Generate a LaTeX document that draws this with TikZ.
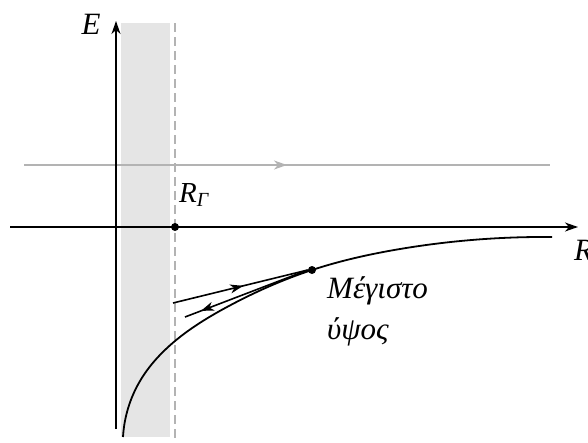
\documentclass[tikz,border=0pt]{standalone}
\usepackage{fontspec}
\setmainfont{Liberation Serif}
\usetikzlibrary{arrows.meta,decorations.markings,hobby}
\definecolor{shadegray}{HTML}{E5E5E5}
\definecolor{lgray}{HTML}{B3B3B3}
\tikzset{
  axis/.style={line width=1.6pt,-{Stealth[length=13pt,width=9pt,inset=4pt]}},
  curveline/.style={line width=1.8pt},
  midarrow/.style={postaction={decorate},decoration={markings,
      mark=at position #1 with {\arrow{Stealth[length=13pt,width=9pt,inset=4pt]}}}},
  lbl/.style={font=\fontsize{31}{35}\selectfont\itshape, inner sep=0pt},
  dotnode/.style={circle,fill=black,inner sep=0pt,minimum size=8pt},
}
\begin{document}
\begin{tikzpicture}[x=1pt,y=-1pt]
\useasboundingbox (0,0) rectangle (588,442);
% shaded region
\fill[shadegray] (121,23) rectangle (170,437);
% dashed boundary
\draw[lgray,line width=1.6pt,dash pattern=on 9pt off 5pt] (175,23) -- (175,442);
% gray horizontal line
\coordinate (gA) at (24,165);
\coordinate (gB) at (550,165);
\draw[lgray,line width=1.8pt,midarrow=0.5] (gA) -- (gB);
% axes
\coordinate (xA) at (10,227);
\coordinate (xB) at (578,227);
\coordinate (yA) at (116,429);
\coordinate (yB) at (116,21);
\draw[axis] (xA) -- (xB);
\draw[axis] (yA) -- (yB);
\node[lbl] (E) at (91,24) {E};
\node[lbl,anchor=base west] (R) at (574,260) {R};
\node[lbl,anchor=base west,font=\fontsize{29}{33}\selectfont\itshape] (RG) at (179,202) {R\raisebox{-0.35ex}{\fontsize{20}{22}\selectfont Γ}};
% potential curve
\draw[curveline,use Hobby shortcut] (123,437)..(140,381)..(175,341)..(227,307)..(312,270)..(400,249)..(552,237);
% dots
\node[dotnode] (rg) at (175,227) {};
\node[dotnode] (mx) at (312,270) {};
% trajectory lines
\coordinate (t1) at (173,303);
\coordinate (t2) at (185,317);
\draw[line width=1.6pt,midarrow=0.52] (t1) -- (mx.west);
\draw[line width=1.6pt,midarrow=0.87] (mx.west) -- (t2);
% label
\node[lbl,anchor=base west] (m1) at (327,298) {Μέγιστο};
\node[lbl,anchor=base west] (m2) at (327,339) {ύψος};
\end{tikzpicture}
\end{document}
